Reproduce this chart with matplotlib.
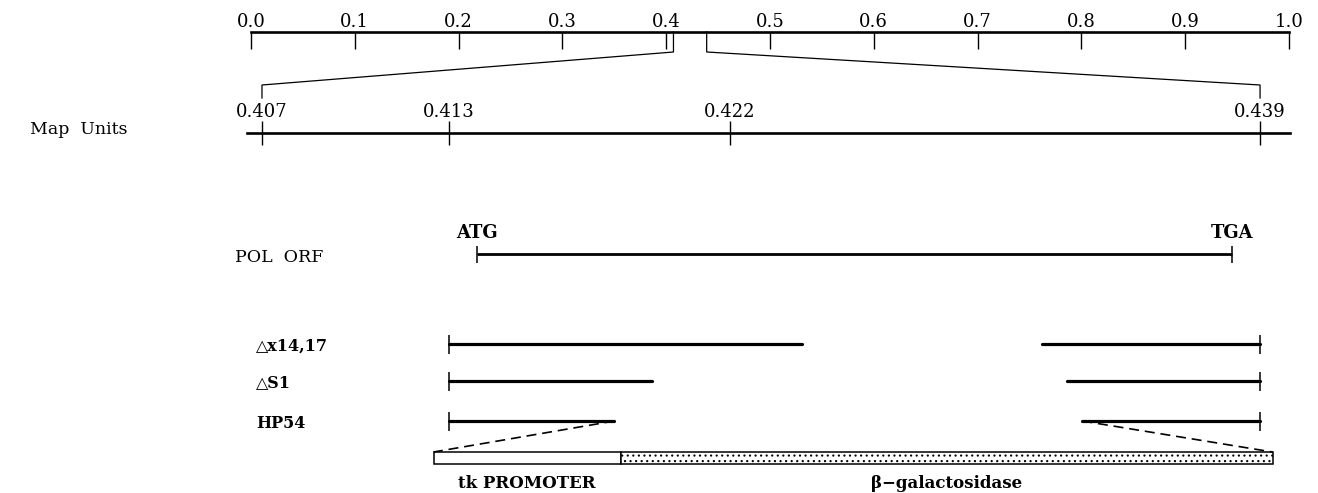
import matplotlib
matplotlib.use("Agg")
import matplotlib.pyplot as plt
import matplotlib.transforms as mtransforms
from matplotlib.patches import Rectangle

# genome map (0-1 map units) and the expanded region
genome_ticks = [0.0, 0.1, 0.2, 0.3, 0.4, 0.5, 0.6, 0.7, 0.8, 0.9, 1.0]
zoom_ticks = [0.407, 0.413, 0.422, 0.439]
zoom_range = [0.407, 0.439]

# POL open reading frame
orf_start = 0.4139
orf_end = 0.4381

# deletion mutants: retained sequence on each side
mutants = ["\u25b3x14,17", "\u25b3S1", "HP54"]
left_start = [0.413, 0.413, 0.413]
left_end = [0.4243, 0.4195, 0.4183]
right_start = [0.4320, 0.4328, 0.4333]
right_end = [0.439, 0.439, 0.439]

# fusion insert in HP54
insert_parts = ["tk PROMOTER", "\u03b2\u2212galactosidase"]
insert_edges = [0.4125, 0.4185, 0.4394]

plt.rcParams["font.family"] = ["DejaVu Serif", "DejaVu Sans"]
plt.rcParams["hatch.linewidth"] = 0.8

W, H = 1318, 493
fig = plt.figure(figsize=(W / 100, H / 100), dpi=100)

def px_axes(l, t, r, b):
    return fig.add_axes([l / W, 1 - b / H, (r - l) / W, (b - t) / H])

# ---- top scale (whole genome)
ax_top = px_axes(251, 32, 1289, 133)
ax_top.set_xlim(0, 1)
ax_top.set_ylim(101, 0)
for s in ["left", "right", "bottom"]:
    ax_top.spines[s].set_visible(False)
ax_top.spines["top"].set_linewidth(1.9)
ax_top.set_yticks([])
ax_top.xaxis.tick_top()
ax_top.set_xticks(genome_ticks)
ax_top.set_xticklabels(["%.1f" % t for t in genome_ticks], fontsize=13)
ax_top.tick_params(axis="x", direction="in", length=12.5, width=1.0, pad=1)
ax_top.patch.set_visible(False)

# ---- expanded scale
ax = px_axes(247, 133, 1290, 493)
ax.set_xlim(0.40652, 0.43996)
ax.set_ylim(360, 0)
for s in ["left", "right", "bottom"]:
    ax.spines[s].set_visible(False)
ax.spines["top"].set_linewidth(1.9)
ax.set_yticks([])
ax.xaxis.tick_top()
ax.set_xticks(zoom_ticks)
ax.set_xticklabels(["%.3f" % t for t in zoom_ticks], fontsize=13)
ax.tick_params(axis="x", direction="inout", length=17, width=1.0, pad=0)
ax.patch.set_visible(False)

# connectors from genome scale to expanded scale
for z in zoom_range:
    xz = ax_top.transData.inverted().transform(ax.transData.transform((z, 0)))[0]
    ax_top.plot([z, z, xz, xz], [0, 20, 53, 66], color="black", lw=0.9,
                clip_on=False, solid_joinstyle="miter")

# row layout (vertical offsets below the expanded scale)
y_orf = 121
y_rows = [211, 248, 288]
y_box = (319, 331)
tick_h = 8.5

lbl = mtransforms.blended_transform_factory(fig.transFigure, ax.transData)
fig.text(30 / W, 1 - 129 / H, "Map  Units", fontsize=12.5, va="center", ha="left")

# POL ORF
ax.text(235 / W, y_orf + 3, "POL  ORF", transform=lbl, fontsize=12.5, va="center", ha="left")
ax.hlines(y_orf, orf_start, orf_end, color="black", lw=2.0)
ax.vlines([orf_start, orf_end], y_orf - tick_h, y_orf + tick_h, color="black", lw=1.1)
ax.text(orf_start, y_orf - 21, "ATG", fontsize=13, fontweight="bold", ha="center", va="center")
ax.text(orf_end, y_orf - 21, "TGA", fontsize=13, fontweight="bold", ha="center", va="center")

# mutants
for name, y, ls, le, rs, re in zip(mutants, y_rows, left_start, left_end, right_start, right_end):
    ax.text(256 / W, y + 2, name, transform=lbl, fontsize=11.5, fontweight="bold",
            va="center", ha="left")
    ax.hlines(y, ls, le, color="black", lw=2.3, capstyle="round")
    ax.hlines(y, rs, re, color="black", lw=2.3, capstyle="round")
    ax.vlines([ls, re], y - tick_h - 1, y + tick_h + 1, color="black", lw=1.1)

# HP54 fusion insert
ax.plot([left_end[2], insert_edges[0]], [y_rows[2], y_box[0]], color="black",
        lw=1.2, ls=(0, (6, 3.5)))
ax.plot([right_start[2], insert_edges[-1]], [y_rows[2], y_box[0]], color="black",
        lw=1.2, ls=(0, (6, 3.5)))
hatches = [None, "..."]
for i, name in enumerate(insert_parts):
    x0, x1 = insert_edges[i], insert_edges[i + 1]
    ax.add_patch(Rectangle((x0, y_box[0]), x1 - x0, y_box[1] - y_box[0],
                           facecolor="white", edgecolor="black", lw=1.1,
                           hatch=hatches[i]))
    ax.text((x0 + x1) / 2, y_box[1] + 19, name, fontsize=12, fontweight="bold",
            ha="center", va="center")

fig.savefig("out.png", dpi=100)
